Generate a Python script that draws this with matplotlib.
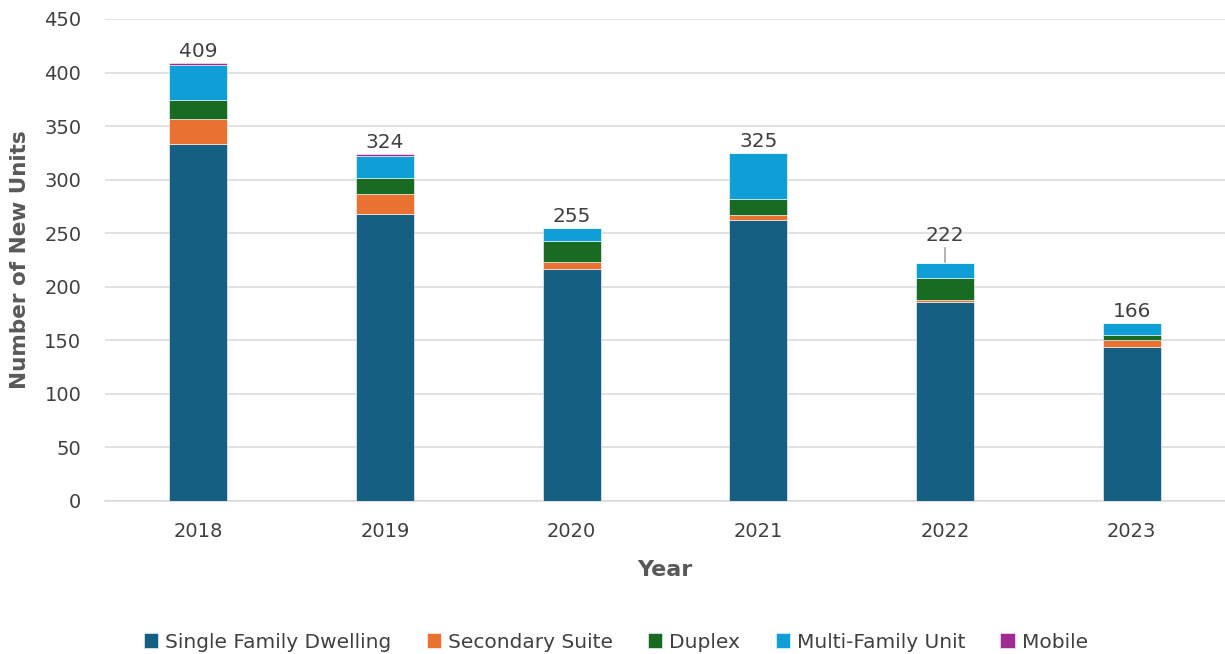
import matplotlib

matplotlib.use("Agg")

import matplotlib.pyplot as plt
import numpy as np

YEARS = ["2018", "2019", "2020", "2021", "2022", "2023"]
SINGLE_FAMILY = [333, 268, 217, 262, 186, 144]
SECONDARY_SUITE = [24, 19, 6, 5, 2, 6]
DUPLEX = [17, 15, 20, 15, 20, 5]
MULTI_FAMILY = [33, 20, 12, 43, 14, 11]
MOBILE = [2, 2, 0, 0, 0, 0]

SERIES = [
    ("Single Family Dwelling", SINGLE_FAMILY, "#156082"),
    ("Secondary Suite", SECONDARY_SUITE, "#E97132"),
    ("Duplex", DUPLEX, "#196B24"),
    ("Multi-Family Unit", MULTI_FAMILY, "#0F9ED5"),
    ("Mobile", MOBILE, "#A02B93"),
]

TEXT = "#404040"
LABEL = "#595959"

fig = plt.figure(figsize=(12.25, 6.54), dpi=100)
ax = fig.add_axes([105 / 1225, 1 - 501 / 654, 1120 / 1225, 482 / 654])

x = np.arange(len(YEARS))
bottom = np.zeros(len(YEARS))
for name, values, color in SERIES:
    ax.bar(x, values, width=0.31, bottom=bottom, color=color, label=name,
           edgecolor="white", linewidth=0.4, zorder=3)
    bottom += np.array(values)

totals = bottom
for i, total in enumerate(totals):
    if YEARS[i] == "2022":
        # label lifted above the bar with a short leader line
        ax.annotate(f"{int(total)}", xy=(i, total + 1), xytext=(i, total + 17),
                    ha="center", va="bottom", fontsize=14.5, color=TEXT,
                    arrowprops=dict(arrowstyle="-", color="#A6A6A6", lw=1.2,
                                    shrinkA=0, shrinkB=0))
    else:
        ax.text(i, total + 2, f"{int(total)}", ha="center", va="bottom",
                fontsize=14.5, color=TEXT)

ax.set_xlim(-0.5, len(YEARS) - 0.5)
ax.set_ylim(0, 450)
ax.set_yticks(np.arange(0, 451, 50))
ax.set_xticks(x)
ax.set_xticklabels(YEARS)
ax.tick_params(axis="both", length=0, labelsize=14, colors=TEXT)
ax.tick_params(axis="x", pad=15)
ax.tick_params(axis="y", pad=17)
ax.grid(axis="y", color="#D9D9D9", linewidth=1.1, zorder=0)
for side in ["top", "right", "left"]:
    ax.spines[side].set_visible(False)
ax.spines["bottom"].set_color("#D9D9D9")
ax.spines["bottom"].set_linewidth(1.1)

ax.set_ylabel("Number of New Units", fontsize=15.5, fontweight="bold", color=LABEL, labelpad=10)
ax.set_xlabel("Year", fontsize=16, fontweight="bold", color=LABEL, labelpad=14)

ax.legend(loc="lower center", bbox_to_anchor=(0.5 - 49 / 1120, -0.35), ncol=5,
          frameon=False, fontsize=14.5, handlelength=0.7, handleheight=0.7,
          handletextpad=0.35, columnspacing=1.75, labelcolor=TEXT)

fig.savefig("out.png", dpi=100)
